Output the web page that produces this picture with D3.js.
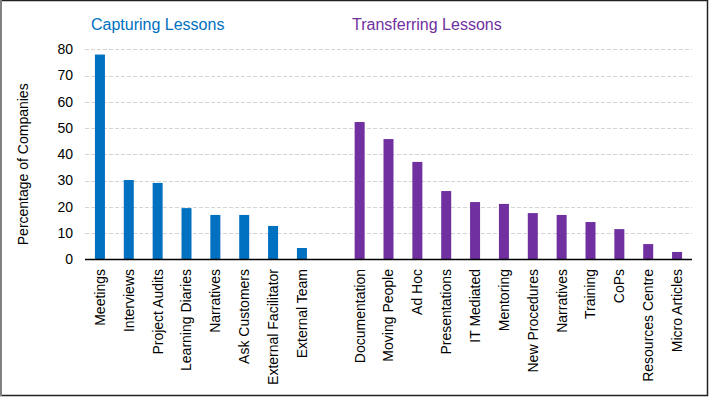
<!DOCTYPE html>
<html>
<head>
<meta charset="utf-8">
<script src="https://cdn.jsdelivr.net/npm/d3@7"></script>
<style>
  body { margin: 0; background: #fff; }
  svg { display: block; font-family: Arial, "Liberation Sans", sans-serif; }
</style>
</head>
<body>
<svg width="710" height="397"></svg>
<script>
const capturingLabels = ["Meetings", "Interviews", "Project Audits", "Learning Diaries",
  "Narratives", "Ask Customers", "External Facilitator", "External Team"];
const capturingValues = [78, 30.2, 29.1, 19.5, 16.9, 16.9, 12.7, 4.3];

const transferLabels = ["Documentation", "Moving People", "Ad Hoc", "Presentations",
  "IT Mediated", "Mentoring", "New Procedures", "Narratives", "Training", "CoPs",
  "Resources Centre", "Micro Articles"];
const transferValues = [52.3, 45.8, 37.1, 26.0, 21.8, 21.1, 17.6, 16.9, 14.2, 11.5, 5.8, 2.8];

const yTicks = [0, 10, 20, 30, 40, 50, 60, 70, 80];
const groupTitles = ["Capturing Lessons", "Transferring Lessons"];
const colors = ["#0070C0", "#7030A0"];

window.onload = () => {
  const svg = d3.select("svg");

  // Rahmen
  svg.append("rect")
    .attr("x", 0.5).attr("y", 0.5)
    .attr("width", 707).attr("height", 395)
    .attr("fill", "none").attr("stroke", "#222").attr("stroke-width", 1.5);
  svg.append("line")
    .attr("x1", 1).attr("x2", 1).attr("y1", 0).attr("y2", 396)
    .attr("stroke", "#808080").attr("stroke-width", 2);

  // Daten: eine leere Lücke zwischen den Gruppen
  const rows = [];
  capturingLabels.forEach((l, i) => rows.push({key: "c" + i, label: l, value: capturingValues[i], group: 0}));
  rows.push({key: "gap", label: "", value: null, group: -1});
  transferLabels.forEach((l, i) => rows.push({key: "t" + i, label: l, value: transferValues[i], group: 1}));

  const x = d3.scaleBand().domain(rows.map(d => d.key)).range([85.5, 691.5]).padding(0);
  const y = d3.scaleLinear().domain([0, 80]).range([259.3, 49.3]);
  const barW = 10;

  // Gitterlinien
  svg.append("g").selectAll("line")
    .data(yTicks.filter(t => t > 0))
    .enter().append("line")
    .attr("x1", 85).attr("x2", 692)
    .attr("y1", d => Math.round(y(d)) + 0.5).attr("y2", d => Math.round(y(d)) + 0.5)
    .attr("stroke", "#d4d4d4").attr("stroke-width", 1)
    .attr("stroke-dasharray", "4,2");

  // Y-Achse Beschriftung
  svg.append("g").selectAll("text")
    .data(yTicks)
    .enter().append("text")
    .attr("x", 73).attr("y", d => y(d))
    .attr("dy", "0.35em")
    .attr("text-anchor", "end")
    .style("font-size", "14px").attr("fill", "#000")
    .text(d => d);

  svg.append("text")
    .attr("transform", `translate(23,${y(40) + 10}) rotate(-90)`)
    .attr("dy", "0.35em")
    .attr("text-anchor", "middle")
    .style("font-size", "14px")
    .text("Percentage of Companies");

  // Balken
  const bars = rows.filter(d => d.value !== null);
  svg.append("g").selectAll("rect")
    .data(bars)
    .enter().append("rect")
    .attr("x", d => x(d.key) + x.bandwidth() / 2 - barW / 2)
    .attr("width", barW)
    .attr("y", d => y(d.value))
    .attr("height", d => y(0) - y(d.value))
    .attr("fill", d => colors[d.group]);

  // X-Achse
  svg.append("line")
    .attr("x1", 85).attr("x2", 692)
    .attr("y1", 259.5).attr("y2", 259.5)
    .attr("stroke", "#000").attr("stroke-width", 1.5);

  svg.append("g").selectAll("text")
    .data(bars)
    .enter().append("text")
    .attr("transform", d => `translate(${x(d.key) + x.bandwidth() / 2},269) rotate(-90)`)
    .attr("dy", "0.35em")
    .attr("text-anchor", "end")
    .style("font-size", "14px")
    .text(d => d.label);

  // Gruppentitel
  svg.append("text")
    .attr("x", 91).attr("y", 30)
    .style("font-size", "16px").attr("fill", colors[0])
    .text(groupTitles[0]);
  svg.append("text")
    .attr("x", 352).attr("y", 30)
    .style("font-size", "16px").attr("fill", colors[1])
    .text(groupTitles[1]);
};
</script>
</body>
</html>
